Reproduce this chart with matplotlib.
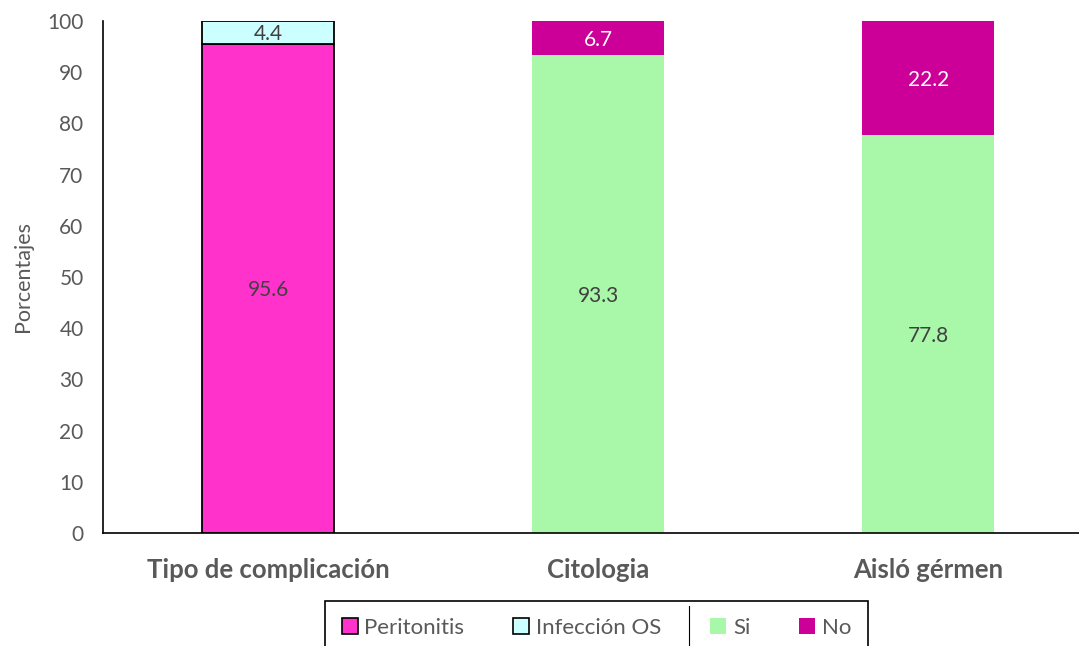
import matplotlib
matplotlib.use("Agg")
import matplotlib.pyplot as plt
from matplotlib.patches import Patch
from matplotlib.lines import Line2D
import numpy as np

categories = ["Tipo de complicación", "Citologia", "Aisló gérmen"]
peritonitis = [95.6, 0, 0]
infeccion_os = [4.4, 0, 0]
si = [0, 93.3, 77.8]
no = [0, 6.7, 22.2]
yticks = [0, 10, 20, 30, 40, 50, 60, 70, 80, 90, 100]

plt.rcParams['font.family'] = ['Lato', 'DejaVu Sans']
gray = "#595959"

fig = plt.figure(figsize=(10.79, 6.46), dpi=100)
ax = fig.add_axes([103/1079, 113/646, (1079-103)/1079, 512/646])
x = np.arange(len(categories))
w = 0.4

ax.bar(x, peritonitis, w, color="#FF33CC", edgecolor="black", linewidth=1.3)
ax.bar(x, infeccion_os, w, bottom=peritonitis, color="#CCFFFF", edgecolor="black", linewidth=1.3)
ax.bar(x, si, w, color="#A9F7A9", linewidth=0)
ax.bar(x, no, w, bottom=si, color="#CC0099", linewidth=0)

lab_fs = 15
va = "center_baseline"
for i in range(len(categories)):
    if peritonitis[i] > 0:
        ax.text(x[i], peritonitis[i]/2, f"{peritonitis[i]:.1f}", ha="center", va=va, fontsize=lab_fs, color="#404040")
    if infeccion_os[i] > 0:
        ax.text(x[i], peritonitis[i] + infeccion_os[i]/2, f"{infeccion_os[i]:.1f}", ha="center", va=va, fontsize=lab_fs, color="#404040")
    if si[i] > 0:
        ax.text(x[i], si[i]/2, f"{si[i]:.1f}", ha="center", va=va, fontsize=lab_fs, color="#404040")
    if no[i] > 0:
        ax.text(x[i], si[i] + no[i]/2, f"{no[i]:.1f}", ha="center", va=va, fontsize=lab_fs, color="white")

ax.set_xlim(-0.5, 2.5 - 14.5/330)
ax.set_ylim(0, 100)
ax.set_yticks(yticks)
ax.set_yticklabels([str(t) for t in yticks], fontsize=15, color=gray)
ax.set_xticks(x)
ax.set_xticklabels(categories, fontsize=18.5, fontweight="bold", color=gray)
ax.tick_params(axis="both", length=0)
ax.tick_params(axis="x", pad=18)
ax.tick_params(axis="y", pad=14)
for s in ["top", "right"]:
    ax.spines[s].set_visible(False)
ax.spines["left"].set_linewidth(1.2)
ax.spines["bottom"].set_linewidth(1.2)
ax.set_ylabel("Porcentajes", fontsize=15.5, color=gray, labelpad=10)

handles = [
    Patch(facecolor="#FF33CC", edgecolor="black", linewidth=1.2, label="Peritonitis"),
    Patch(facecolor="#CCFFFF", edgecolor="black", linewidth=1.2, label="Infección OS"),
    Patch(facecolor="#A9F7A9", edgecolor="none", label="Si"),
    Patch(facecolor="#CC0099", edgecolor="none", label="No"),
]
leg = fig.legend(handles=handles, loc="upper left",
                 bbox_to_anchor=(325/1079, 1 - 601/646 - 0.1, 543/1079, 0.1), mode="expand",
                 ncol=4, frameon=True, fontsize=16, handlelength=0.72, handleheight=0.72,
                 handletextpad=0.3, columnspacing=1.5, borderpad=0.75, borderaxespad=0,
                 fancybox=False, labelcolor=gray, framealpha=1)
leg.get_frame().set_edgecolor("black")
leg.get_frame().set_linewidth(1.2)
fig.add_artist(Line2D([688.5/1079, 688.5/1079], [1 - 606/646, 0], color="black",
                      linewidth=0.8, zorder=20))

fig.savefig("out.png", dpi=100)
